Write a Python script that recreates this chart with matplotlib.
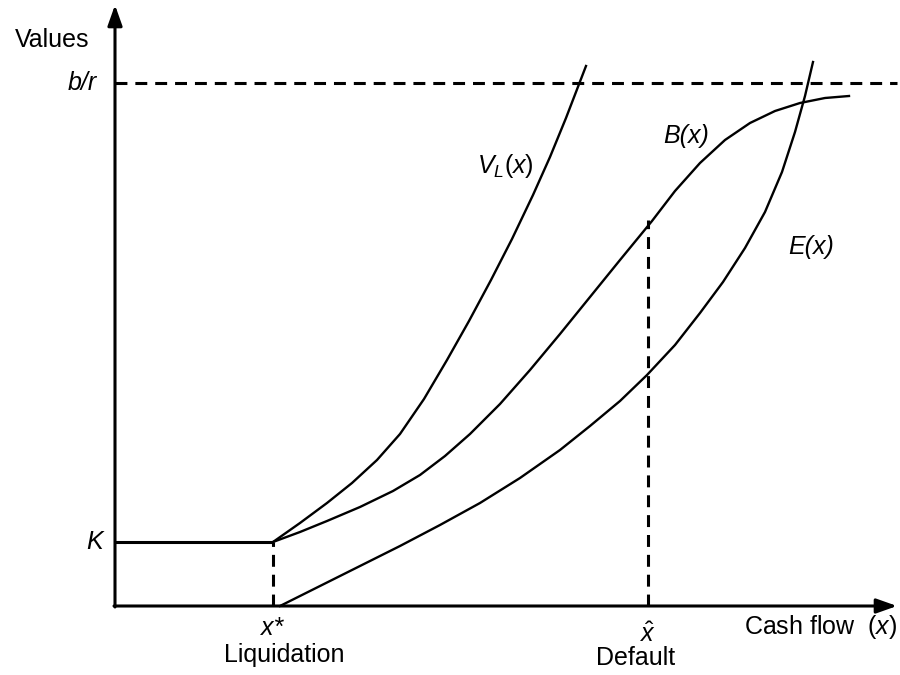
import matplotlib.pyplot as plt

plt.rcParams["font.family"] = ["Liberation Sans", "DejaVu Sans"]
plt.rcParams["mathtext.fontset"] = "custom"
plt.rcParams["mathtext.it"] = "Liberation Sans:italic"
plt.rcParams["mathtext.rm"] = "Liberation Sans"

# schematic values (origin = where the axes meet)
K = 64
b_over_r = 523
x_star = 158
x_hat = 533
x_hat_top = 386
x_end = 782
y_end = 601

vl_x = [158, 185, 212, 237, 262, 285, 309, 332, 354, 376, 397, 418, 435, 451, 471]
vl_y = [64, 83, 103, 123, 146, 172, 207, 246, 285, 326, 367, 411, 449, 488, 540]

b_x = [158, 185, 212, 245, 278, 305, 330, 355, 385, 415, 445, 475, 505, 537,
       560, 585, 610, 635, 660, 685, 710, 734]
b_y = [64, 74, 85, 99, 115, 131, 150, 172, 202, 236, 272, 309, 346, 385,
       415, 443, 466, 483, 495, 503, 508, 510]

e_x = [165, 205, 245, 285, 325, 365, 405, 445, 475, 505, 532, 560, 585, 608,
       630, 650, 667, 680, 690, 698]
e_y = [0, 20, 40, 60, 81, 103, 128, 156, 180, 205, 231, 261, 293, 324,
       358, 394, 434, 474, 510, 544]

fig = plt.figure(figsize=(9, 6.75), dpi=100)
ax = fig.add_axes([0, 0, 1, 1])
ax.set_xlim(-115, 785)
ax.set_ylim(-69, 606)
ax.axis("off")

fs = 18
dash = (0, (3.9, 2.6))

# axes with arrow heads
arrow = dict(arrowstyle="-|>,head_length=0.62,head_width=0.22", mutation_scale=20,
             lw=2.2, color="black", shrinkA=0, shrinkB=0)
ax.annotate("", xy=(0, y_end), xytext=(0, -1), arrowprops=arrow)
ax.annotate("", xy=(x_end, 0), xytext=(-1, 0), arrowprops=arrow)

# flat part at K and dashed guides
ax.plot([0, x_star], [K, K], color="black", lw=2.2, solid_capstyle="butt")
ax.plot([0, x_end], [b_over_r, b_over_r], color="black", lw=2.2, linestyle=dash)
ax.plot([x_star, x_star], [0, K], color="black", lw=2.2, linestyle=dash)
ax.plot([x_hat, x_hat], [0, x_hat_top], color="black", lw=2.2, linestyle=dash)

# curves
ax.plot(vl_x, vl_y, color="black", lw=1.7, solid_joinstyle="round")
ax.plot(b_x, b_y, color="black", lw=1.7, solid_joinstyle="round")
ax.plot(e_x, e_y, color="black", lw=1.7, solid_joinstyle="round")

# labels
ax.text(-63, 566, "Values", fontsize=fs, ha="center", va="center")
ax.text(-18, b_over_r, "b/r", fontsize=fs, style="italic", ha="right", va="center")
ax.text(-20, K, "K", fontsize=fs, style="italic", ha="center", va="center")
ax.text(157, -22, "x*", fontsize=fs, style="italic", ha="center", va="center")
ax.text(169, -49, "Liquidation", fontsize=fs, ha="center", va="center")
ax.text(532, -36, r"$\hat{x}$", fontsize=fs, ha="center", va="baseline")
ax.text(521, -52, "Default", fontsize=fs, ha="center", va="center")
ax.text(782, -21, r"Cash flow  ($\mathit{x}$)", fontsize=fs, ha="right", va="center")
ax.text(571, 470, "B(x)", fontsize=fs, style="italic", ha="center", va="center")
ax.text(696, 359, "E(x)", fontsize=fs, style="italic", ha="center", va="center")
ax.text(390, 433, r"$V_L(x)$", fontsize=fs, ha="center", va="baseline")

fig.savefig("out.png", dpi=100)
